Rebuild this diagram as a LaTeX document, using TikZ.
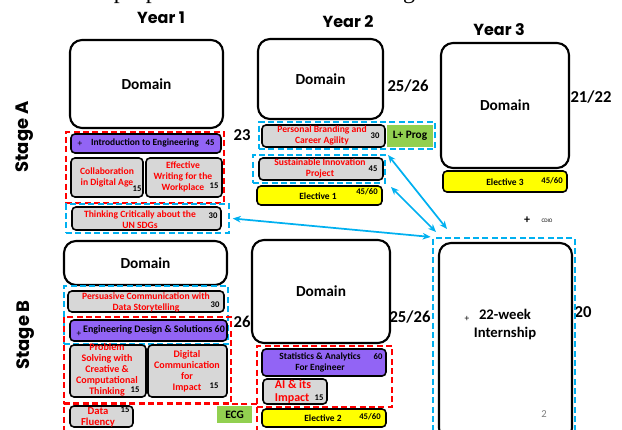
\documentclass[tikz,border=0pt]{standalone}
\usepackage{fontspec}
\setmainfont{Carlito}
\newfontfamily\headfont{Poppins}
\newfontfamily\capfont{Liberation Serif}
\usetikzlibrary{arrows.meta}

\definecolor{crsgray}{RGB}{215,215,215}
\definecolor{crspurple}{RGB}{146,100,245}
\definecolor{crsgreen}{RGB}{146,208,80}
\definecolor{crsyellow}{RGB}{255,255,0}
\definecolor{grpblue}{RGB}{0,176,240}
\definecolor{grpred}{RGB}{255,0,0}

\begin{document}
\begin{tikzpicture}[x=0.75pt,y=-0.75pt,
  every node/.style={inner sep=0pt},
  sz/.style 2 args={minimum width=#1*0.75pt,minimum height=#2*0.75pt},
  dombox/.style={draw,line width=1.6pt,rounded corners=9pt,fill=white},
  course/.style={draw,line width=1.2pt,rounded corners=3pt,fill=crsgray},
  core/.style={course,fill=crspurple},
  elective/.style={course,fill=crsyellow},
  extra/.style={fill=crsgreen},
  redgrp/.style={draw=grpred,line width=1.6pt,dash pattern=on 4.5pt off 2.5pt},
  bluegrp/.style={draw=grpblue,line width=1.6pt,dash pattern=on 4.5pt off 2.5pt},
  link/.style={grpblue,line width=1.3pt,{Stealth[length=6pt,width=5pt]}-{Stealth[length=6pt,width=5pt]}},
  yr/.style={font=\headfont\bfseries\fontsize{12}{14}\selectfont},
  stg/.style={font=\headfont\bfseries\fontsize{13.5}{16}\selectfont,rotate=90},
  dom/.style={font=\bfseries\fontsize{11.5}{14}\selectfont},
  credits/.style={font=\bfseries\fontsize{12.5}{15}\selectfont},
  rtxt/.style={text=red,align=center,font=\bfseries\fontsize{7.2}{8.25}\selectfont},
  btxt/.style={align=center,font=\bfseries\fontsize{7.1}{8.25}\selectfont},
  num/.style={font=\bfseries\fontsize{6.5}{8}\selectfont},
]
\useasboundingbox (0,0) rectangle (622,429);
\clip (0,0) rectangle (622,429);

% running text above the figure
\node[anchor=base east,font=\capfont\fontsize{18}{20}\selectfont] (cap) at (470,-2) {scheme was proposed and it is shown in Figure 3.};

% years and stages
\node[yr] (yr1) at (161,18) {Year 1};
\node[yr] (yr2) at (348,22) {Year 2};
\node[yr] (yr3) at (499,30) {Year 3};
\node[stg] (stA) at (25,137) {Stage A};
\node[stg] (stB) at (26,335) {Stage B};

% domain blocks
\node[dombox,sz={153}{88}] (domA1) at (146.5,84) {};
\node[dom] at (domA1) {Domain};
\node[dombox,sz={125}{80}] (domA2) at (320.5,79) {};
\node[dom] at (domA2) {Domain};
\node[dombox,sz={128}{125}] (domA3) at (505,105.5) {};
\node[dom] at (domA3) {Domain};
\node[dombox,sz={163}{44}] (domB1) at (145.5,263) {};
\node[dom] at (domB1) {Domain};
\node[dombox,sz={138}{103}] (domB2) at (321,291.5) {};
\node[dom] at (domB2) {Domain};
\node[dombox,sz={133}{197}] (intern) at (505.5,341.5) {};

% credit loads
\node[credits] (ldA1) at (242,135) {23};
\node[credits] (ldA2) at (408,86) {25/26};
\node[credits] (ldA3) at (591,97) {21/22};
\node[credits] (ldB1) at (242,322) {26};
\node[credits] (ldB2) at (410,317) {25/26};
\node[credits] (ldB3) at (583,312) {20};

% groups
\node[redgrp,sz={158}{71}] (grpA1) at (145,167.5) {};
\node[bluegrp,sz={163}{29}] (grpA1b) at (147.5,218.5) {};
\node[bluegrp,sz={176}{27}] (grpA2) at (347,135.5) {};
\node[bluegrp,sz={132}{28}] (grpA2b) at (319,169) {};
\node[bluegrp,sz={164}{58}] (grpB1) at (146,315) {};
\node[redgrp,sz={167}{86}] (grpB1b) at (147.5,360) {};
\node[redgrp,sz={193}{40}] (grpB1c) at (160.5,424) {};
\node[redgrp,sz={135}{61}] (grpB2) at (324.5,376.5) {};
\node[bluegrp,sz={142}{210}] (grpB3) at (504,343) {};

% year 1, stage A
\node[core,sz={150}{19}] (intro) at (146,143.5) {};
\node[font=\fontsize{7}{8}\selectfont] at (80,144) {+};
\node[btxt] at (145,143) {Introduction to Engineering};
\node[num] at (210,143) {45};
\node[course,sz={72}{39}] (collab) at (107,177.5) {};
\node[rtxt] at (107,177) {Collaboration\\in Digital Age};
\node[num] at (137,189) {15};
\node[course,sz={76}{39}] (writing) at (184,177.5) {};
\node[rtxt] at (183,176.5) {Effective\\Writing for the\\Workplace};
\node[num] at (214,186) {15};
\node[course,sz={149}{23}] (sdgs) at (146.5,218.5) {};
\node[rtxt] at (140,220) {Thinking Critically about the\\UN SDGs};
\node[num] at (213,216) {30};

% year 2, stage A
\node[course,sz={123}{22}] (brand) at (323.5,136) {};
\node[rtxt] at (322,135) {Personal Branding and\\Career Agility};
\node[num] at (375,136) {30};
\node[extra,sz={46}{22}] (lprog) at (410,136) {};
\node[font=\bfseries\fontsize{8.5}{10}\selectfont] at (lprog) {L+ Prog};
\node[course,sz={124}{22}] (sustain) at (321,169) {};
\node[rtxt] at (320,168.5) {Sustainable Innovation\\Project};
\node[num] at (373,169) {45};
\node[elective,sz={125}{19}] (elec1) at (319.5,195.5) {};
\node[btxt] at (318,196) {Elective 1};
\node[num] at (367,192) {45/60};

% year 3, stage A
\node[elective,sz={124}{21}] (elec3) at (505,181.5) {};
\node[btxt] at (505,182) {Elective 3};
\node[num] at (552,181) {45/60};

% year 1, stage B
\node[course,sz={156}{21}] (persu) at (146,301.5) {};
\node[rtxt] at (146,302) {Persuasive Communication with\\Data Storytelling};
\node[num] at (215,305) {30};
\node[core,sz={157}{21}] (design) at (148.5,330.5) {};
\node[font=\fontsize{7}{8}\selectfont] at (79,334) {+};
\node[btxt,font=\bfseries\fontsize{7.5}{9}\selectfont] at (154,329.5) {Engineering Design \& Solutions 60};
\node[course,sz={76}{52}] (problem) at (108,371) {};
\node[rtxt,font=\bfseries\fontsize{7.5}{8.25}\selectfont] at (107,370) {Problem\\Solving with\\Creative \&\\Computational\\Thinking};
\node[num] at (135,390) {15};
\node[course,sz={79}{52}] (digital) at (187.5,371) {};
\node[rtxt,font=\bfseries\fontsize{7.5}{8.25}\selectfont] at (187,371) {Digital\\Communication\\for\\Impact};
\node[num] at (214,386) {15};
\node[course,sz={63}{21}] (fluency) at (101.5,416.5) {};
\node[rtxt,font=\bfseries\fontsize{8}{8.25}\selectfont] at (98,417) {Data\\Fluency};
\node[num] at (125,410) {15};
\node[extra,sz={35}{17}] (ecg) at (234.5,414.5) {};
\node[font=\bfseries\fontsize{8.5}{10}\selectfont] at (ecg) {ECG};

% year 2, stage B
\node[core,sz={124}{27}] (stats) at (324,362.5) {};
\node[btxt] at (320,362.5) {Statistics \& Analytics\\For Engineer};
\node[num] at (378,357) {60};
\node[course,sz={64}{25}] (ai) at (295,391.5) {};
\node[text=red,align=left,font=\bfseries\fontsize{9}{9.5}\selectfont] at (293,391.5) {AI \& its\\Impact};
\node[num] at (319,398) {15};
\node[elective,sz={124}{18}] (elec2) at (324,418) {};
\node[btxt] at (323,418.5) {Elective 2};
\node[num] at (370,417) {45/60};

% year 3, stage B
\node[font=\bfseries\fontsize{9}{10}\selectfont] (cplus) at (527,220) {+};
\node[font=\fontsize{4}{5}\selectfont] (cdio) at (547,221) {CDIO};
\node[font=\fontsize{7}{8}\selectfont] at (467,319) {+};
\node[align=center,font=\bfseries\fontsize{11}{13.5}\selectfont] at (505,325) {22-week\\Internship};
\node[text=gray,font=\fontsize{8}{9}\selectfont] at (544,414) {2};

% links to the internship
\coordinate (lkA) at (388,155);
\coordinate (lkA') at (447,229);
\coordinate (lkB) at (391,187);
\coordinate (lkB') at (436,232);
\coordinate (lkC) at (grpA1b.east);
\coordinate (lkC') at (grpB3.north west);
\draw[link] (lkA)--(lkA');
\draw[link] (lkB)--(lkB');
\draw[link] ([xshift=2pt]lkC)--([xshift=-1pt]lkC');
\end{tikzpicture}
\end{document}
